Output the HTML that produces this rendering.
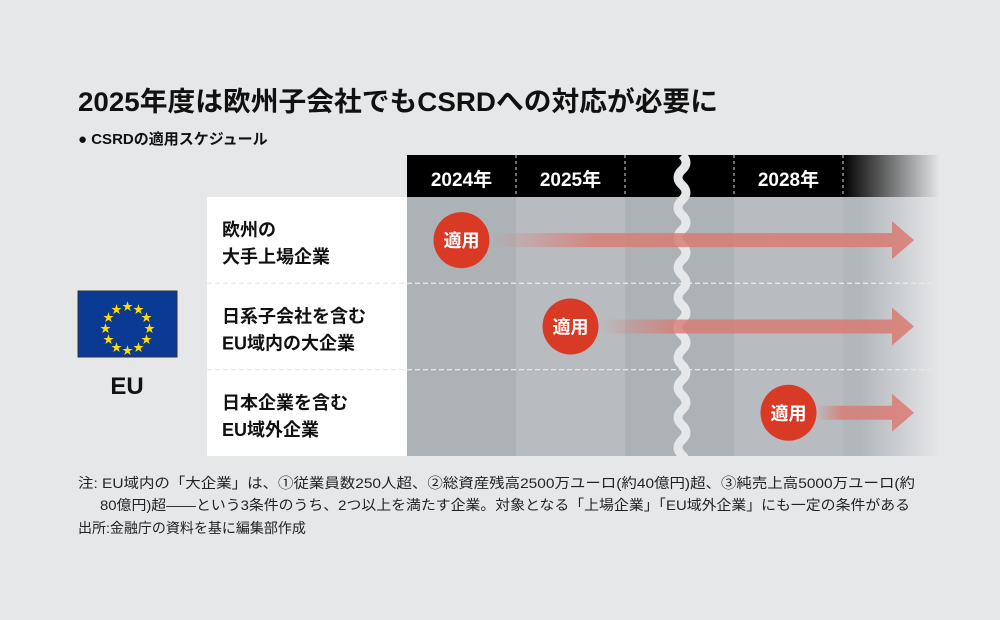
<!DOCTYPE html>
<html><head><meta charset="utf-8"><style>
body{margin:0;background:#e6e7e9;}
svg{display:block;font-family:"Liberation Sans","Noto Sans CJK JP",sans-serif;}
</style></head><body>
<svg width="1000" height="620" viewBox="0 0 1000 620">
<defs>
<linearGradient id="hdrFade" x1="0" x2="1"><stop offset="0" stop-color="#000"/><stop offset="1" stop-color="#000" stop-opacity="0"/></linearGradient>
<linearGradient id="bodyFade" x1="0" x2="1"><stop offset="0" stop-color="#e6e7e9" stop-opacity="0"/><stop offset="1" stop-color="#e6e7e9"/></linearGradient>
<linearGradient id="arrowFade" x1="0" x2="1"><stop offset="0" stop-color="#d97a72" stop-opacity="0"/><stop offset="0.25" stop-color="#d97a72" stop-opacity="0.8"/><stop offset="1" stop-color="#d97a72" stop-opacity="0.85"/></linearGradient>
</defs>
<rect width="1000" height="620" fill="#e6e7e9"/>
<text x="78" y="111" font-size="27" font-weight="bold" fill="#111" textLength="640" lengthAdjust="spacingAndGlyphs">2025年度は欧州子会社でもCSRDへの対応が必要に</text>
<text x="78" y="144" font-size="15" font-weight="bold" fill="#111">● CSRDの適用スケジュール</text>
<g id="grid"></g>
<g id="rows"></g>
<g>
<rect x="78" y="291" width="99" height="66" fill="#0b3a94" stroke="#333" stroke-width="1"/>
<g id="stars"></g>
<text x="127" y="394" font-size="24" font-weight="bold" text-anchor="middle" fill="#111">EU</text>
</g>
<g font-size="14" fill="#222">
<text x="78" y="488" textLength="837" lengthAdjust="spacingAndGlyphs">注: EU域内の「大企業」は、①従業員数250人超、②総資産残高2500万ユーロ(約40億円)超、③純売上高5000万ユーロ(約</text>
<text x="100" y="510" textLength="810" lengthAdjust="spacingAndGlyphs">80億円)超――という3条件のうち、2つ以上を満たす企業。対象となる「上場企業」「EU域外企業」にも一定の条件がある</text>
<text x="78" y="533">出所:金融庁の資料を基に編集部作成</text>
</g>
</svg>
<script>
const years = ["2024年","2025年","","","2028年",""];
const rowLabels = [["欧州の","大手上場企業"],["日系子会社を含む","EU域内の大企業"],["日本企業を含む","EU域外企業"]];
const startCol = [0,1,4];
const ns="http://www.w3.org/2000/svg";
function mk(t,a,p){const e=document.createElementNS(ns,t);for(const k in a)e.setAttribute(k,a[k]);p.appendChild(e);return e;}
const colX=[407,516,625,680,734,843,940];
const xCenter=i=>(colX[i]+colX[i+1])/2;
const hdrTop=155,hdrB=197,rowH=86.3,bodyB=456;
const g=document.getElementById('grid');
const shades=["#adb2b6","#b8bcc0","#adb2b6","#adb2b6","#b8bcc0","#b2b7bb"];
years.forEach((y,i)=>{
  const w=colX[i+1]-colX[i];
  const b=mk('rect',{x:colX[i],y:hdrB,width:w,height:bodyB-hdrB,fill:shades[i]},g);
  
  
  const h=mk('rect',{x:colX[i],y:hdrTop,width:w,height:hdrB-hdrTop,fill:i===5?'url(#hdrFade)':'#000'},g);
  
  
  if(y){const t=mk('text',{x:xCenter(i),y:186,'font-size':19,'font-weight':'bold',fill:'#fff','text-anchor':'middle'},g);t.textContent=y;
  
  }
  if(i>0&&i!==3)mk('line',{x1:colX[i],x2:colX[i],y1:hdrTop,y2:hdrB,stroke:'#ddd','stroke-dasharray':'3,3'},g);
});
mk('rect',{x:860,y:hdrB,width:80,height:bodyB-hdrB,fill:'url(#bodyFade)'},g);
let d="M682 155";for(let y=155;y<456;y+=30){d+=` q8 7.5 0 15 q-8 7.5 0 15`;}
const wv=mk('path',{d:d,fill:'none',stroke:'#e6e7e9','stroke-width':9},g);


mk('rect',{x:207,y:hdrB,width:200,height:bodyB-hdrB,fill:'#fff'},g);
const r=document.getElementById('rows');
rowLabels.forEach((lab,i)=>{
  const y0=hdrB+i*rowH,cy=y0+rowH/2;
  if(i>0)mk('line',{x1:207,x2:935,y1:y0,y2:y0,stroke:'#e8e8e8','stroke-width':1.3,'stroke-dasharray':'5,3'},r);
  lab.forEach((s,j)=>{const t=mk('text',{x:222,y:cy-4+j*27,'font-size':18,'font-weight':'bold',fill:'#111'},r);t.textContent=s;
  
  });
  const cx=xCenter(startCol[i]);
  const ar=mk('path',{d:`M${cx+28} ${cy-7} H892 V${cy-19} L914 ${cy} L892 ${cy+19} V${cy+7} H${cx+28} Z`,fill:'url(#arrowFade)'},r);
  
  
  const c=mk('circle',{cx:cx,cy:cy,r:28,fill:'#d93a26'},r);
  
  
  const t=mk('text',{x:cx,y:cy+7,'font-size':18,'font-weight':'bold',fill:'#fff','text-anchor':'middle'},r);t.textContent='適用';
});
const st=document.getElementById('stars');
for(let k=0;k<12;k++){const a=k*Math.PI/6;const t=mk('text',{x:127.5+22*Math.sin(a),y:328+4-22*Math.cos(a),'font-size':11,fill:'#ffdd00','text-anchor':'middle'},st);t.textContent='★';}
</script>
</body></html>
